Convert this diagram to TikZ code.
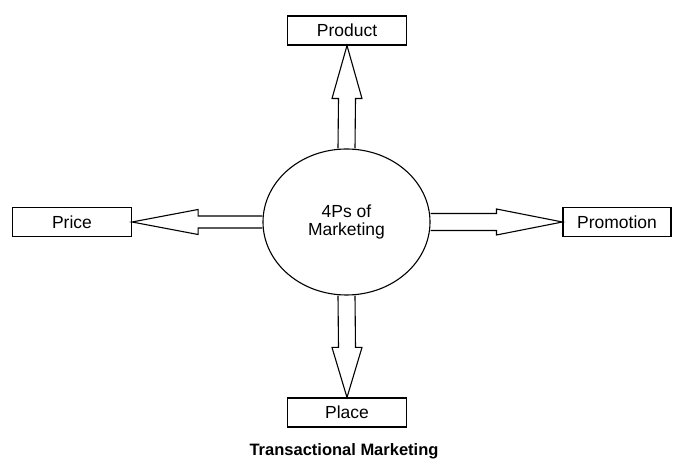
\documentclass[tikz,border=0pt]{standalone}
\usepackage{fontspec}
\setmainfont{Liberation Sans}
\usetikzlibrary{shapes.geometric,calc}

\begin{document}
\begin{tikzpicture}[x=1pt,y=1pt,line width=1.1pt,
	main node/.style={ellipse,draw,minimum width=167pt,minimum height=146pt,inner sep=0pt,align=center,font=\fontsize{17.5}{18.5}\selectfont},
	p node/.style={rectangle,draw,minimum width=119pt,minimum height=29pt,inner sep=0pt,font=\fontsize{17.5}{18.5}\selectfont}]
	\useasboundingbox (0,0) rectangle (673,460);
	\node[main node] (4p) at (346.5,238) {4Ps of\\Marketing};
	\node[p node] (product) at (347,429.5) {Product};
	\node[p node] (price) at (72,238) {Price};
	\node[p node,minimum width=108pt] (promotion) at (617,238) {Promotion};
	\node[p node] (place) at (347,47.5) {Place};
	\node[font=\fontsize{16.5}{18}\selectfont\bfseries] (title) at (344,9) {Transactional Marketing};

	% hollow arrows
	\draw ($(4p.north)+(-8.5,0)$) -- ($(product.south)+(-8.5,-53)$) -- ++(-6.5,0) -- (product.south)
		-- ($(product.south)+(15,-53)$) -- ++(-6.5,0) -- ($(4p.north)+(8.5,0)$);
	\draw ($(4p.south)+(-8.5,0)$) -- ($(place.north)+(-8.5,50)$) -- ++(-6.5,0) -- (place.north)
		-- ($(place.north)+(15,50)$) -- ++(-6.5,0) -- ($(4p.south)+(8.5,0)$);
	\draw ($(4p.west)+(0,6)$) -- ($(price.east)+(66,6)$) -- ++(0,6.5) -- (price.east)
		-- ($(price.east)+(66,-12.5)$) -- ++(0,6.5) -- ($(4p.west)+(0,-6)$);
	\draw ($(4p.east)+(0,8.5)$) -- ($(promotion.west)+(-66,8.5)$) -- ++(0,4.5) -- (promotion.west)
		-- ($(promotion.west)+(-66,-13)$) -- ++(0,4.5) -- ($(4p.east)+(0,-8.5)$);
\end{tikzpicture}
\end{document}
